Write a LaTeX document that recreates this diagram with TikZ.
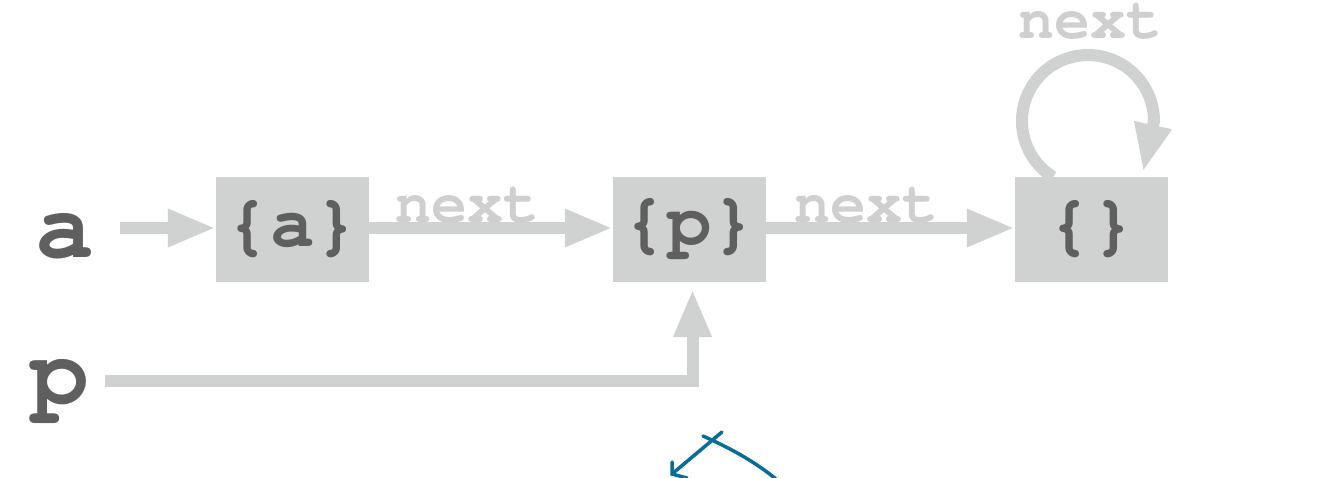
\documentclass[tikz,border=0pt]{standalone}
\usepackage{fontspec}
\newfontfamily\curfont{texgyrecursor-bold.otf}
\usetikzlibrary{arrows.meta}
\definecolor{boxgray}{HTML}{D0D1D1}
\definecolor{inkgray}{HTML}{5F5F5F}
\definecolor{labelgray}{HTML}{CFCFCF}
\definecolor{sketchblue}{HTML}{0B6C98}

\begin{document}
\begin{tikzpicture}[x=1pt,y=-1pt,
  cell/.style={fill=boxgray, minimum width=153pt, minimum height=105pt,
    inner sep=0pt, text=inkgray, font=\curfont\fontsize{74}{76}\selectfont},
  varname/.style={text=inkgray, font=\curfont\fontsize{98}{100}\selectfont,
    inner sep=0pt, anchor=base},
  fieldname/.style={text=labelgray, font=\curfont\fontsize{60}{62}\selectfont,
    inner sep=0pt, anchor=base},
  link/.style={draw=boxgray, line width=12pt,
    -{Triangle[length=48pt,width=35pt]}},
  sketch/.style={draw=sketchblue, line width=3.5pt, line cap=round},
]
\useasboundingbox (0,0) rectangle (1324,477);

% variables
\node[varname] (va) at (65,257) {a};
\node[varname] (vp) at (60,403) {p};

% list cells
\node[cell] (ca) at (292.5,229.5) {\{a\}};
\node[cell] (cp) at (689.5,229.5) {\{p\}};
\node[cell] (ce) at (1091.5,229.5) {\{\}};

% field labels (drawn first, the links run over their baselines)
\node[fieldname] (n1) at (467,222) {next};
\node[fieldname] (n2) at (866,222) {next};
\node[fieldname] (n3) at (1090,38) {next};

% links
\coordinate (astart) at (120,228);
\coordinate (pstart) at (105,381);
\coordinate (pbend) at (692.5,381);
\coordinate (ptip) at (692.5,289);
\draw[link] (astart) -- (astart -| ca.west);
\draw[link] (ca.east |- astart) -- (astart -| cp.west);
\draw[link] (cp.east |- astart) -- (astart -| ce.west);
\draw[link] (pstart) -- (pbend) -- (ptip);

% self loop of the last cell
\coordinate (loopstart) at (1053,177);
\coordinate (looptip) at (1143,172);
\draw[link] (loopstart) arc[start angle=122, end angle=360, radius=66] -- (looptip);

% pen sketch
\draw[sketch] (722,432) -- (672,474);
\draw[sketch] (672,462) -- (672,474) -- (687,478);
\draw[sketch] (703,436) .. controls (725,446) and (750,458) .. (776,479);
\end{tikzpicture}
\end{document}
